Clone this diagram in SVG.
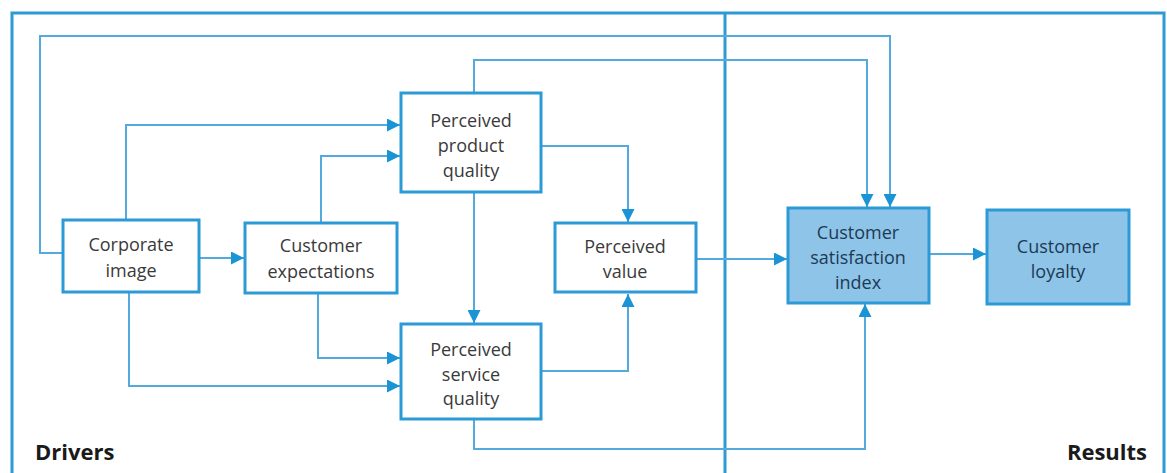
<svg xmlns="http://www.w3.org/2000/svg" width="1167" height="473" viewBox="0 0 1167 473">
<defs>
<style>
.frame{fill:none;stroke:#2b9ad6;stroke-width:3}
.box{fill:#ffffff;stroke:#2b9ad6;stroke-width:3}
.res{fill:#8ec4e8;stroke:#2b9ad6;stroke-width:3}
.con{fill:none;stroke:#55aadd;stroke-width:2}
.t{font-family:"Open Sans","DejaVu Sans",sans-serif;font-size:18px;fill:#3a3a3a;text-anchor:middle}
.tr{font-family:"Open Sans","DejaVu Sans",sans-serif;font-size:18px;fill:#1d3a55;text-anchor:middle}
.lab{font-family:"Open Sans","DejaVu Sans",sans-serif;font-size:22px;font-weight:bold;fill:#1a1a1a}
</style>
<marker id="ah" viewBox="0 0 13 13" refX="13" refY="6.5" markerWidth="13" markerHeight="13" markerUnits="userSpaceOnUse" orient="auto">
<path d="M0,0 L13,6.5 L0,13 Z" fill="#1a94d4"/>
</marker>
</defs>
<rect width="1167" height="473" fill="#ffffff"/>
<g id="frame">
<path class="frame" d="M12,475 L12,13 L1164,13 L1164,475"/>
<line class="frame" x1="725" y1="13" x2="725" y2="475"/>
<text class="lab" x="35" y="460">Drivers</text>
<text class="lab" x="1147" y="460" text-anchor="end">Results</text>
</g>
<g id="connectors">
<path class="con" d="M62,253 L40,253 L40,36 L890,36 L890,207" marker-end="url(#ah)"/>
<path class="con" d="M126,219 L126,125 L400,125" marker-end="url(#ah)"/>
<path class="con" d="M321,222 L321,156 L400,156" marker-end="url(#ah)"/>
<path class="con" d="M200,258 L244,258" marker-end="url(#ah)"/>
<path class="con" d="M129,293 L129,386 L400,386" marker-end="url(#ah)"/>
<path class="con" d="M318,294 L318,358 L400,358" marker-end="url(#ah)"/>
<path class="con" d="M474,92 L474,60 L867,60 L867,207" marker-end="url(#ah)"/>
<path class="con" d="M542,146 L628,146 L628,222" marker-end="url(#ah)"/>
<path class="con" d="M474,193 L474,323" marker-end="url(#ah)"/>
<path class="con" d="M542,371 L628,371 L628,294" marker-end="url(#ah)"/>
<path class="con" d="M474,420 L474,449 L865,449 L865,304" marker-end="url(#ah)"/>
<path class="con" d="M697,259 L787,259" marker-end="url(#ah)"/>
<path class="con" d="M930,254 L986,254" marker-end="url(#ah)"/>
</g>
<g id="corporate-image">
<rect class="box" x="63" y="220" width="136" height="72"/>
<text class="t" x="131" y="251">Corporate</text>
<text class="t" x="131" y="277">image</text>
</g>
<g id="customer-expectations">
<rect class="box" x="245" y="223" width="152" height="70"/>
<text class="t" x="321" y="252">Customer</text>
<text class="t" x="321" y="278">expectations</text>
</g>
<g id="perceived-product-quality">
<rect class="box" x="401" y="93" width="140" height="99"/>
<text class="t" x="471" y="127">Perceived</text>
<text class="t" x="471" y="152">product</text>
<text class="t" x="471" y="177">quality</text>
</g>
<g id="perceived-value">
<rect class="box" x="555" y="223" width="141" height="69"/>
<text class="t" x="625" y="253">Perceived</text>
<text class="t" x="625" y="278">value</text>
</g>
<g id="perceived-service-quality">
<rect class="box" x="401" y="324" width="140" height="95"/>
<text class="t" x="471" y="356">Perceived</text>
<text class="t" x="471" y="381">service</text>
<text class="t" x="471" y="405">quality</text>
</g>
<g id="customer-satisfaction-index">
<rect class="res" x="788" y="208" width="141" height="95"/>
<text class="tr" x="858" y="239">Customer</text>
<text class="tr" x="858" y="264">satisfaction</text>
<text class="tr" x="858" y="289">index</text>
</g>
<g id="customer-loyalty">
<rect class="res" x="987" y="210" width="142" height="94"/>
<text class="tr" x="1058" y="253">Customer</text>
<text class="tr" x="1058" y="278">loyalty</text>
</g>
</svg>
